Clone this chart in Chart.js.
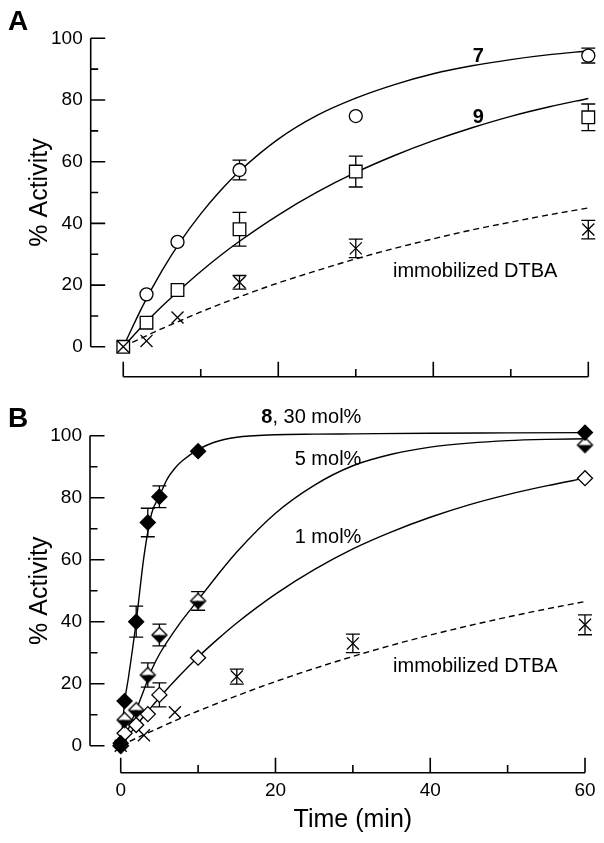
<!DOCTYPE html>
<html lang="en">
<head>
<meta charset="UTF-8">
<title>% Activity vs time</title>
<script src="https://cdn.jsdelivr.net/npm/chart.js"></script>
<style>
  body { margin: 0; background: #fff; }
  #wrap { position: relative; width: 604px; height: 843px; }
  canvas { position: absolute; left: 0; }
  #chartA { top: 0; }
  #chartB { top: 400px; }
</style>
</head>
<body>
<div id="wrap">
  <canvas id="chartA" width="604" height="400"></canvas>
  <canvas id="chartB" width="604" height="443"></canvas>
</div>
<script>
// ---- panel A data ----
const timeA = [0, 3, 7, 15, 30, 60];
const act7 = [null, 17, 34, 57.3, 74.8, 94.4];
const err7 = [0, 0, 0, 3.2, 0, 2.4];
const act9 = [0, 7.8, 18.4, 38.1, 56.8, 74.4];
const err9 = [0, 0, 0, 5.5, 5.0, 4.3];
const dtbaA = [0, 1.9, 9.5, 20.9, 31.9, 38];
const dtbaErrA = [0, 0, 0, 2.2, 3, 3];

// fitted curves, panel A
const fitTimeA = [0, 2.5, 5, 7.5, 10, 12.5, 15, 20, 25, 30, 35, 40, 45, 50, 55, 60];
const fit7 = [0, 13.2, 24.7, 34.6, 43.1, 50.5, 56.9, 67.3, 75.0, 80.6, 85.0, 88.5, 91.1, 93.1, 94.7, 95.9];
const fit9 = [0, 6.8, 13.1, 18.9, 24.4, 29.5, 34.2, 42.7, 50.1, 56.5, 62.0, 66.8, 71.0, 74.7, 77.8, 80.5];
const fitDtbaA = [0, 3.0, 5.9, 8.6, 11.3, 13.8, 16.2, 20.7, 24.7, 28.5, 31.9, 35.0, 37.9, 40.4, 42.8, 45.0];

// ---- panel B data ----
const timeB = [0, 0.5, 2, 3.5, 5, 10, 60];
const act30 = [0.8, 14.4, 40, 72, 80.3, 95, 101];
const err30 = [0, 0, 5, 4.6, 3.5, 0, 0];
const act5 = [0, 8.3, 11.5, 22.8, 35.7, 46.7, 97];
const err5 = [0, 0, 0, 3.9, 3.5, 3, 0];
const act1 = [0, 4, 6.7, 10.2, 16.4, 28.4, 86.3];
const err1 = [0, 0, 0, 0, 3.9, 0, 0];
const timeDtbaB = [0, 3, 7, 15, 30, 60];
const dtbaB = [0, 3.4, 10.8, 22.3, 33, 39];
const dtbaErrB = [0, 0, 0, 2.4, 3, 3.2];

// fitted curves, panel B
const fitTime30 = [0, 0.5, 1, 2, 3, 4, 5, 6, 7, 8, 10, 12, 15, 20, 25, 30, 40, 50, 60];
const fit30 = [0, 14, 22, 40, 61, 75, 80.5, 86, 89.5, 92, 95.5, 97.8, 99.5, 100.3, 100.5, 100.6, 100.8, 100.9, 101];
const fitTimeB = [0, 1, 2, 3, 4, 5, 7.5, 10, 12.5, 15, 20, 25, 30, 35, 40, 45, 50, 55, 60];
const fit5 = [0, 5.5, 11.5, 18, 24.5, 29.5, 39, 47, 55, 62.5, 75, 84, 90.3, 94, 96.3, 97.6, 98.4, 98.8, 99];
const fit1 = [0, 3.3, 6.5, 9.6, 12.6, 15.5, 22.3, 28.6, 34.3, 39.6, 48.9, 56.8, 63.5, 69.0, 73.7, 77.7, 81.0, 83.8, 86.3];
const fitTimeDtbaB = [0, 2.5, 5, 7.5, 10, 12.5, 15, 20, 25, 30, 35, 40, 45, 50, 55, 60];
const fitDtbaB = [0, 3.0, 5.8, 8.6, 11.2, 13.7, 16.1, 20.7, 24.9, 28.8, 32.4, 35.7, 38.7, 41.5, 44.1, 46.5];

// axis ticks
const xTicks = [0, 20, 40, 60];
const xMinor = [10, 30, 50];
const yTicks = [0, 20, 40, 60, 80, 100];
const yMinor = [10, 30, 50, 70, 90];

const FAM = '"Liberation Sans", Arial, Helvetica, sans-serif';
Chart.defaults.font.family = FAM;
Chart.defaults.color = '#000';

const xy = (xs, ys) => xs.map((x, i) => ({ x: x, y: ys[i] }));

// diamond with the lower half black
function halfDiamond(r) {
    const c = document.createElement('canvas');
    const s = Math.ceil(2 * r + 4);
    c.width = s; c.height = s;
    const g = c.getContext('2d');
    const m = s / 2;
    g.beginPath(); g.moveTo(m - r, m); g.lineTo(m, m - r); g.lineTo(m + r, m); g.closePath();
    g.fillStyle = '#fff'; g.fill();
    g.beginPath(); g.moveTo(m - r, m); g.lineTo(m, m + r); g.lineTo(m + r, m); g.closePath();
    g.fillStyle = '#000'; g.fill();
    g.beginPath(); g.moveTo(m - r, m); g.lineTo(m, m - r); g.lineTo(m + r, m); g.lineTo(m, m + r); g.closePath();
    g.lineWidth = 1.3; g.strokeStyle = '#000'; g.stroke();
    return c;
}

function markers(label, xs, ys, errs, style, radius, fill, order) {
    return {
        label: label, data: xy(xs, ys), yErr: errs,
        showLine: false, pointStyle: style, pointRadius: radius, pointHoverRadius: radius,
        pointBackgroundColor: fill, pointBorderColor: '#000', pointBorderWidth: 1.3,
        order: order, clip: false
    };
}

function curve(label, xs, ys, dashed) {
    return {
        label: label, data: xy(xs, ys), showLine: true, pointRadius: 0,
        borderColor: '#000', borderWidth: 1.4, borderDash: dashed ? [6, 4] : [],
        cubicInterpolationMode: 'monotone', fill: false, order: 5, clip: false
    };
}

function drawRich(ctx, parts, px, py, align) {
    let w = 0;
    parts.forEach(p => { ctx.font = p.f; w += ctx.measureText(p.t).width; });
    let cx = align === 'right' ? px - w : align === 'center' ? px - w / 2 : px;
    ctx.textAlign = 'left';
    ctx.textBaseline = 'alphabetic';
    parts.forEach(p => { ctx.font = p.f; ctx.fillText(p.t, cx, py); cx += ctx.measureText(p.t).width; });
}

const N20 = '20px ' + FAM, B20 = 'bold 20px ' + FAM;

// axes drawn detached (offset) like the figure, plus error bars and labels
const framePlugin = {
    id: 'frame',
    beforeDatasetsDraw(chart) {
        const { ctx } = chart;
        const x = chart.scales.x, y = chart.scales.y;
        ctx.save();
        ctx.strokeStyle = '#000';
        ctx.lineWidth = 1.3;
        chart.data.datasets.forEach(ds => {
            if (!ds.yErr) return;
            ds.data.forEach((p, j) => {
                const e = ds.yErr[j];
                if (!e || p.y == null) return;
                const px = x.getPixelForValue(p.x);
                const pt = y.getPixelForValue(p.y + e), pb = y.getPixelForValue(p.y - e);
                ctx.beginPath();
                ctx.moveTo(px, pt); ctx.lineTo(px, pb);
                ctx.moveTo(px - 7, pt); ctx.lineTo(px + 7, pt);
                ctx.moveTo(px - 7, pb); ctx.lineTo(px + 7, pb);
                ctx.stroke();
            });
        });
        ctx.restore();
    },
    afterDraw(chart, args, o) {
        const { ctx, chartArea } = chart;
        const x = chart.scales.x, y = chart.scales.y;
        const ax = chartArea.left, ay = chartArea.bottom;
        ctx.save();
        ctx.strokeStyle = '#000';
        ctx.lineWidth = 1.6;
        ctx.beginPath();
        ctx.moveTo(ax, y.getPixelForValue(0)); ctx.lineTo(ax, y.getPixelForValue(100));
        yTicks.forEach(v => { const p = y.getPixelForValue(v); ctx.moveTo(ax, p); ctx.lineTo(ax + 14.5, p); });
        yMinor.forEach(v => { const p = y.getPixelForValue(v); ctx.moveTo(ax, p); ctx.lineTo(ax + 7.5, p); });
        ctx.moveTo(x.getPixelForValue(0), ay); ctx.lineTo(x.getPixelForValue(60), ay);
        xTicks.forEach(v => { const p = x.getPixelForValue(v); ctx.moveTo(p, ay); ctx.lineTo(p, ay - 15); });
        xMinor.forEach(v => { const p = x.getPixelForValue(v); ctx.moveTo(p, ay); ctx.lineTo(p, ay - 7.7); });
        ctx.stroke();

        ctx.fillStyle = '#000';
        // panel letter
        drawRich(ctx, [{ t: o.letter, f: 'bold 28px ' + FAM }], 8, o.letterY, 'left');
        // y title
        ctx.save();
        ctx.translate(40, y.getPixelForValue(50));
        ctx.rotate(-Math.PI / 2);
        ctx.font = '25px ' + FAM;
        ctx.textAlign = 'center';
        ctx.textBaseline = 'middle';
        ctx.fillText('% Activity', 0, 0);
        ctx.restore();
        // x title
        if (o.xTitle) {
            ctx.font = '25px ' + FAM;
            ctx.textAlign = 'center';
            ctx.textBaseline = 'middle';
            ctx.fillText(o.xTitle, x.getPixelForValue(30), ay + 47.5);
        }
        // curve labels in data coordinates
        o.notes.forEach(n => drawRich(ctx, n.parts, x.getPixelForValue(n.x), y.getPixelForValue(n.y), n.align));
        ctx.restore();
    }
};

function baseOptions(p) {
    return {
        responsive: false,
        animation: false,
        layout: { padding: { left: 0, top: p.top, right: p.right, bottom: 0 } },
        plugins: {
            legend: { display: false },
            tooltip: { enabled: false },
            frame: p.frame
        },
        scales: {
            x: {
                type: 'linear', min: p.xMin, max: 60,
                afterFit: s => { s.height = p.xHeight; },
                afterBuildTicks: s => { s.ticks = xTicks.map(v => ({ value: v })); },
                grid: { display: false, drawTicks: false },
                border: { display: false },
                ticks: { display: p.xLabels, font: { size: 19 }, padding: 7, maxRotation: 0 }
            },
            y: {
                type: 'linear', min: p.yMin, max: 100,
                afterFit: s => { s.width = p.yWidth; },
                afterBuildTicks: s => { s.ticks = yTicks.map(v => ({ value: v })); },
                grid: { display: false, drawTicks: false },
                border: { display: false },
                ticks: { font: { size: 19 }, padding: 8 }
            }
        }
    };
}

new Chart(document.getElementById('chartA'), {
    type: 'scatter',
    data: {
        datasets: [
            markers('DTBA', timeA, dtbaA, dtbaErrA, 'crossRot', 8.5, '#000', 0),
            markers('9', timeA, act9, err9, 'rect', 8.9, '#fff', 1),
            markers('7', timeA, act7, err7, 'circle', 6.5, '#fff', 1),
            curve('fit 7', fitTimeA, fit7, false),
            curve('fit 9', fitTimeA, fit9, false),
            curve('fit DTBA', fitTimeA, fitDtbaA, true)
        ]
    },
    options: baseOptions({
        top: 38.3, right: 15.7, xMin: -4.2, yMin: -9.7, xHeight: 23.3, yWidth: 90.7, xLabels: false,
        frame: {
            letter: 'A', letterY: 30, xTitle: null,
            notes: [
                { parts: [{ t: '7', f: B20 }], x: 45.8, y: 92.4, align: 'center' },
                { parts: [{ t: '9', f: B20 }], x: 45.8, y: 72.5, align: 'center' },
                { parts: [{ t: 'immobilized DTBA', f: N20 }], x: 34.8, y: 22.7, align: 'left' }
            ]
        }
    }),
    plugins: [framePlugin]
});

const halfImg = halfDiamond(7.5);

new Chart(document.getElementById('chartB'), {
    type: 'scatter',
    data: {
        datasets: [
            markers('30 mol%', timeB, act30, err30, 'rectRot', 7.5, '#000', 0),
            markers('5 mol%', timeB, act5, err5, halfImg, 7.5, '#fff', 1),
            markers('1 mol%', timeB, act1, err1, 'rectRot', 7.5, '#fff', 2),
            markers('DTBA', timeDtbaB, dtbaB, dtbaErrB, 'crossRot', 8.5, '#000', 3),
            curve('fit 30', fitTime30, fit30, false),
            curve('fit 5', fitTimeB, fit5, false),
            curve('fit 1', fitTimeB, fit1, false),
            curve('fit DTBA', fitTimeDtbaB, fitDtbaB, true)
        ]
    },
    options: baseOptions({
        top: 35.7, right: 19, xMin: -3.97, yMin: -8.7, xHeight: 70.3, yWidth: 90, xLabels: true,
        frame: {
            letter: 'B', letterY: 27, xTitle: 'Time (min)',
            notes: [
                { parts: [{ t: '8', f: B20 }, { t: ', 30 mol%', f: N20 }], x: 31.1, y: 104.1, align: 'right' },
                { parts: [{ t: '5 mol%', f: N20 }], x: 31.1, y: 90.5, align: 'right' },
                { parts: [{ t: '1 mol%', f: N20 }], x: 31.1, y: 65.4, align: 'right' },
                { parts: [{ t: 'immobilized DTBA', f: N20 }], x: 35.2, y: 23.8, align: 'left' }
            ]
        }
    }),
    plugins: [framePlugin]
});
</script>
</body>
</html>
